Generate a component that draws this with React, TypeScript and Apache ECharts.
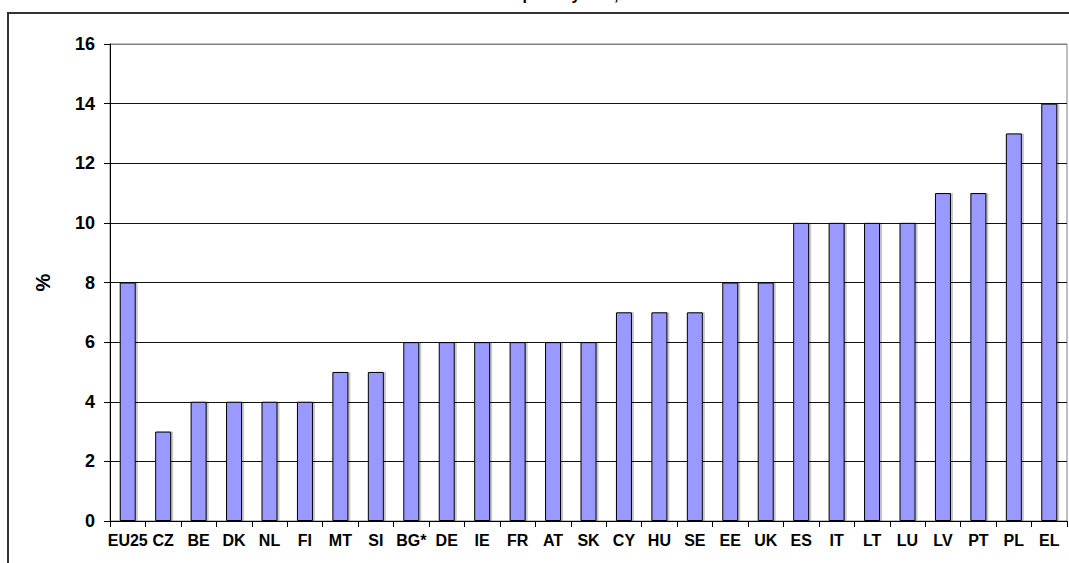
import React, { useEffect, useRef } from "react";
import * as echarts from "echarts";

const countries = ["EU25", "CZ", "BE", "DK", "NL", "FI", "MT", "SI", "BG*", "DE", "IE", "FR", "AT", "SK", "CY", "HU", "SE", "EE", "UK", "ES", "IT", "LT", "LU", "LV", "PT", "PL", "EL"];
const values = [8, 3, 4, 4, 4, 4, 5, 5, 6, 6, 6, 6, 6, 6, 7, 7, 7, 8, 8, 10, 10, 10, 10, 11, 11, 13, 14];
const titleText = "In-work at-risk-of-poverty rate, 2005";
const yName = "%";

const FONT = "'Liberation Sans', Arial, sans-serif";

export default function App() {
  const ref = useRef<HTMLDivElement>(null);
  useEffect(() => {
    if (!ref.current) return;
    const chart = echarts.init(ref.current, null, { renderer: "svg" });
    chart.setOption({
      animation: false,
      backgroundColor: "#ffffff",
      graphic: [
        {
          type: "rect",
          z: -10,
          silent: true,
          shape: { x: 8, y: 13, width: 1200, height: 700 },
          style: { fill: "none", stroke: "#333333", lineWidth: 2 },
        },
        {
          type: "text",
          x: 523,
          y: 2,
          silent: true,
          style: {
            text: titleText,
            fontFamily: FONT,
            fontWeight: "bold",
            fontSize: 16,
            fill: "#000",
            align: "center",
            verticalAlign: "bottom",
          },
        },
      ],
      grid: {
        left: 110,
        right: 2,
        top: 44,
        bottom: 42,
        show: true,
        borderColor: "#808080",
        borderWidth: 1,
        backgroundColor: "transparent",
      },
      xAxis: {
        type: "category",
        data: countries,
        axisLine: { show: true, lineStyle: { color: "#000", width: 1 } },
        axisTick: { show: true, length: 6, lineStyle: { color: "#000" } },
        axisLabel: {
          interval: 0,
          margin: 11,
          color: "#000",
          fontFamily: FONT,
          fontWeight: "bold",
          fontSize: 16,
        },
      },
      yAxis: {
        type: "value",
        min: 0,
        max: 16,
        interval: 2,
        name: yName,
        nameLocation: "middle",
        nameRotate: 90,
        nameGap: 57,
        nameTextStyle: { color: "#000", fontFamily: FONT, fontWeight: "bold", fontSize: 20 },
        axisLine: { show: true, lineStyle: { color: "#000", width: 1 } },
        axisTick: { show: true, length: 6, lineStyle: { color: "#000" } },
        axisLabel: {
          margin: 15,
          color: "#000",
          fontFamily: FONT,
          fontWeight: "bold",
          fontSize: 18,
        },
        splitLine: {
          show: true,
          lineStyle: {
            color: ["#111", "#111", "#111", "#111", "#111", "#111", "#111", "#111", "#808080"],
            width: 1,
          },
        },
      },
      series: [
        {
          type: "bar",
          data: values,
          barWidth: 16,
          itemStyle: {
            color: "#9999FF",
            borderColor: "#000",
            borderWidth: 1,
            shadowColor: "rgba(0,0,0,0.22)",
            shadowOffsetX: 2,
            shadowOffsetY: 0,
            shadowBlur: 0,
          },
        },
      ],
    });
    return () => chart.dispose();
  }, []);
  return (
    <div
      ref={ref}
      style={{ position: "absolute", left: 0, top: 0, width: 1069, height: 563 }}
    />
  );
}
